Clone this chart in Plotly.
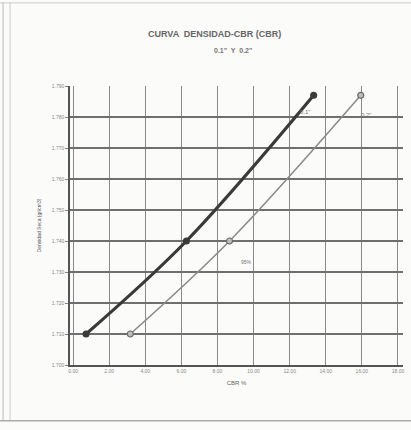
import plotly.graph_objects as go

# Data
cbr_01 = [0.72, 6.28, 13.33]        # CBR % at 0.1"
dens_01 = [1.710, 1.740, 1.787]      # dry density
cbr_02 = [3.17, 8.67, 15.94]        # CBR % at 0.2"
dens_02 = [1.710, 1.740, 1.787]
x_ticks = [0, 2, 4, 6, 8, 10, 12, 14, 16, 18]
x_tick_labels = ["0.00", "2.00", "4.00", "6.00", "8.00", "10.00", "12.00", "14.00", "16.00", "18.00"]
y_ticks = [1.70, 1.71, 1.72, 1.73, 1.74, 1.75, 1.76, 1.77, 1.78, 1.79]
y_tick_labels = ["1.700", "1.710", "1.720", "1.730", "1.740", "1.750", "1.760", "1.770", "1.780", "1.790"]

fig = go.Figure()
fig.add_trace(go.Scatter(
    x=cbr_01, y=dens_01, mode="lines+markers", line=dict(color="#3a3a3a", width=3.2, shape="spline"),
    marker=dict(color="#3a3a3a", size=7), name='0.1"', showlegend=False))
fig.add_trace(go.Scatter(
    x=cbr_02, y=dens_02, mode="lines+markers", line=dict(color="#8a8a8a", width=1.5, shape="spline"),
    marker=dict(color="#bdbdbd", size=6, line=dict(color="#6a6a6a", width=1.2)), name='0.2"', showlegend=False))

fig.add_annotation(x=cbr_01[2] - 0.5, y=1.7815, text='0.1"', showarrow=False,
                   font=dict(size=6, color="#777"))
fig.add_annotation(x=cbr_02[2] + 0.3, y=1.7805, text='0.2"', showarrow=False,
                   font=dict(size=6, color="#777"))
fig.add_annotation(x=9.6, y=1.7333, text="95%", showarrow=False,
                   font=dict(size=5, color="#777"))

# titles
fig.add_annotation(xref="paper", yref="paper", x=0.435, y=1.211, text="<b>CURVA  DENSIDAD-CBR (CBR)</b>",
                   showarrow=False, font=dict(size=9, color="#666"))
fig.add_annotation(xref="paper", yref="paper", x=0.49, y=1.147, text='<b>0.1"  Y  0.2"</b>',
                   showarrow=False, font=dict(size=7, color="#777"))

fig.update_layout(
    width=411, height=430,
    margin=dict(l=70, r=8, t=86, b=65),
    paper_bgcolor="#fbfbfa", plot_bgcolor="#fbfbfa",
    font=dict(family="Liberation Sans, Arial", color="#777"),
    xaxis=dict(range=[-0.17, 18.28], tickvals=x_ticks, ticktext=x_tick_labels,
               tickfont=dict(size=5, color="#888"), showgrid=True, gridcolor="#8a8a8a", gridwidth=1,
               showline=True, linecolor="#555", linewidth=1.5, zeroline=False,
               title=dict(text="CBR %", font=dict(size=6, color="#666"), standoff=8)),
    yaxis=dict(range=[1.7, 1.79], tickvals=y_ticks, ticktext=y_tick_labels,
               tickfont=dict(size=5, color="#888"), showgrid=True, gridcolor="#6f6f6f", gridwidth=1.5,
               showline=True, linecolor="#555", linewidth=1.5, zeroline=False,
               ticks="outside", ticklen=3, tickcolor="#888",
               title=dict(text="Densidad Seca (gr/cm3)", font=dict(size=5, color="#555"), standoff=10)),
)

# scanned page frame
fig.add_shape(type="line", xref="paper", yref="paper", x0=-0.201, x1=-0.201, y0=-0.2, y1=1.3,
              line=dict(color="#bbb", width=1))
fig.add_shape(type="line", xref="paper", yref="paper", x0=-0.18, x1=-0.18, y0=-0.2, y1=1.3,
              line=dict(color="#ccc", width=1))
fig.add_shape(type="line", xref="paper", yref="paper", x0=-0.21, x1=1.03, y0=-0.2, y1=-0.2,
              line=dict(color="#aaa", width=1.5))
fig.add_shape(type="line", xref="paper", yref="paper", x0=-0.21, x1=1.03, y0=1.298, y1=1.298,
              line=dict(color="#ccc", width=1))

fig.write_html("out.html")
